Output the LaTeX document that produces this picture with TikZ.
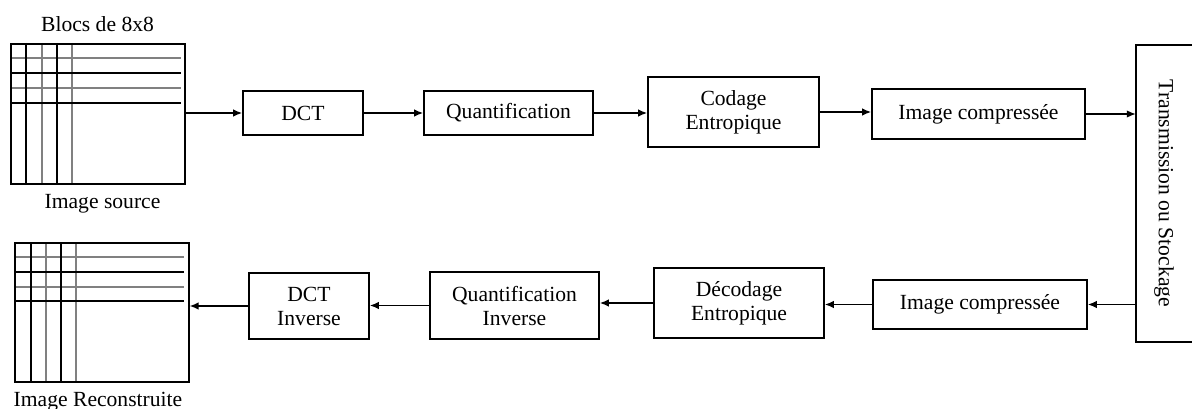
\documentclass[tikz,border=0pt]{standalone}
\usepackage{fontspec}
\setmainfont{Liberation Serif}
\usetikzlibrary{arrows.meta,calc}

\tikzset{
  blockbox/.style={draw, line width=1.6pt, inner sep=0pt, align=center,
    font=\fontsize{21.6}{24}\selectfont},
  caption/.style={inner sep=0pt, font=\fontsize{21.6}{24}\selectfont},
  flow/.style={line width=1.5pt, -{Latex[length=9pt,width=7.5pt]}},
  frame/.style={line width=1.6pt},
  gridblack/.style={line width=1.5pt, black},
  gridgray/.style={line width=2.2pt, black!50},
}

\begin{document}
\begin{tikzpicture}[x=1pt,y=-1pt]
\useasboundingbox (0,0) rectangle (1192,409);

% ---- source image split into 8x8 blocks ----
\node[caption, anchor=base] (blocs) at (97.5,32) {Blocs de 8x8};
\foreach \x in {42,72} \draw[gridgray] (\x,43) -- (\x,183);
\foreach \y in {58,88} \draw[gridgray] (10,\y) -- (181,\y);
\foreach \x in {26,57} \draw[gridblack] (\x,43) -- (\x,183);
\foreach \y in {73,103} \draw[gridblack] (10,\y) -- (181,\y);
\node[draw, frame, inner sep=0pt, minimum width=174pt, minimum height=140pt,
      anchor=north west] (src) at (10,43) {};
\node[caption, anchor=base] (srclbl) at (102.5,208) {Image source};

% ---- reconstructed image ----
\foreach \x in {46,76} \draw[gridgray] (\x,242) -- (\x,381);
\foreach \y in {257,287} \draw[gridgray] (14,\y) -- (184,\y);
\foreach \x in {31,61} \draw[gridblack] (\x,242) -- (\x,381);
\foreach \y in {272,301} \draw[gridblack] (14,\y) -- (184,\y);
\node[draw, frame, inner sep=0pt, minimum width=174pt, minimum height=139pt,
      anchor=north west] (rec) at (14,242) {};
\node[caption, anchor=base] (reclbl) at (98,406) {Image Reconstruite};

% ---- coding chain ----
\node[blockbox, minimum width=120pt, minimum height=44pt] (dct) at (303,113) {DCT};
\node[blockbox, minimum width=169pt, minimum height=44pt] (quant) at (508.5,113) {Quantification};
\node[blockbox, minimum width=171pt, minimum height=70pt] (cod) at (733.5,112) {Codage\\Entropique};
\node[blockbox, minimum width=213pt, minimum height=50pt] (imgc) at (978.5,114) {Image compressée};

% ---- transmission / storage (open on the right) ----
\node[inner sep=0pt, minimum width=56pt, minimum height=297pt] (trans) at (1164,193.5) {};
\draw[frame] (trans.north east) -- (trans.north west) -- (trans.south west) -- (trans.south east);
\node[caption, rotate=-90] (translbl) at (trans.center) {Transmission ou Stockage};

% ---- decoding chain ----
\node[blockbox, minimum width=214pt, minimum height=49pt] (imgd) at (980,304.5) {Image compressée};
\node[blockbox, minimum width=170pt, minimum height=70pt] (dec) at (739,303) {Décodage\\Entropique};
\node[blockbox, minimum width=169pt, minimum height=67pt] (quanti) at (514.5,305.5) {Quantification\\Inverse};
\node[blockbox, minimum width=120pt, minimum height=66pt] (dcti) at (309,306) {DCT\\Inverse};

% ---- connectors ----
\draw[flow] (src.east |- dct.west) -- (dct.west);
\draw[flow] (dct.east) -- (quant.west);
\draw[flow] (quant.east) -- (quant.east -| cod.west);
\draw[flow] (cod.east) -- (cod.east -| imgc.west);
\draw[flow] (imgc.east) -- (imgc.east -| trans.west);
\draw[flow] (trans.west |- imgd.east) -- (imgd.east);
\draw[flow] (imgd.west) -- (imgd.west -| dec.east);
\draw[flow] (dec.west) -- (dec.west -| quanti.east);
\draw[flow] (quanti.west) -- (quanti.west -| dcti.east);
\draw[flow] (dcti.west) -- (dcti.west -| rec.east);
\end{tikzpicture}
\end{document}
